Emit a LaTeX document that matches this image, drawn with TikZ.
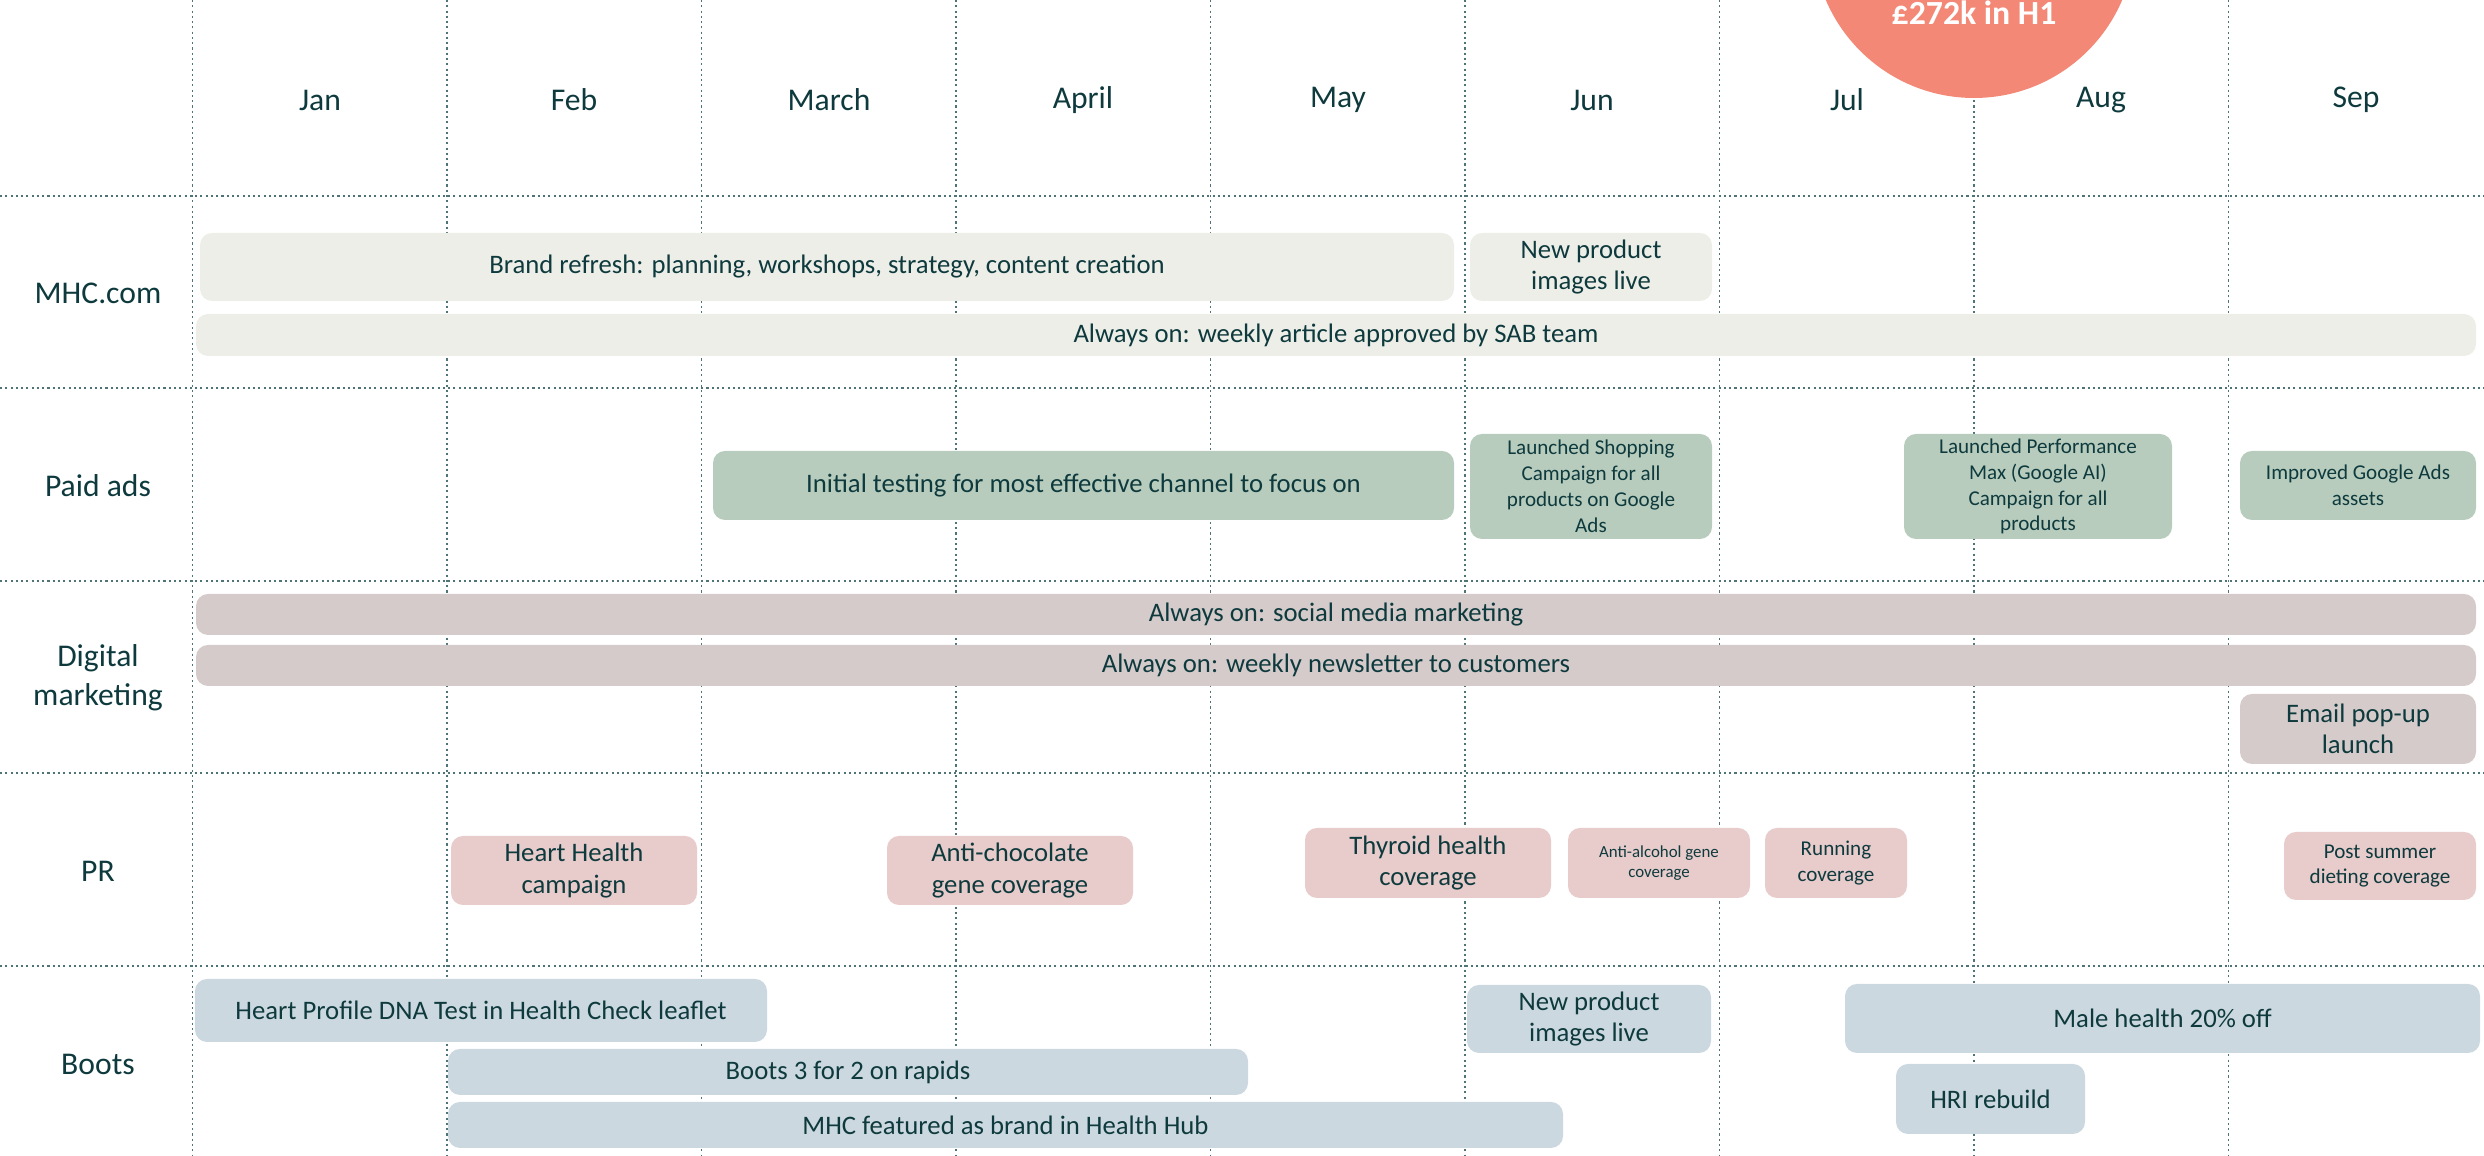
\documentclass[tikz,border=0pt]{standalone}
\usepackage{fontspec}
\setmainfont{Carlito}
\usepackage{xcolor}
\usetikzlibrary{positioning}

\definecolor{inkteal}{HTML}{0E3A3D}
\definecolor{gridteal}{HTML}{4F7478}
\definecolor{mhcfill}{HTML}{EDEEE8}
\definecolor{adsfill}{HTML}{B7CCBD}
\definecolor{digfill}{HTML}{D5CBCB}
\definecolor{prfill}{HTML}{E8CBCB}
\definecolor{bootsfill}{HTML}{CBD8E0}
\definecolor{salmon}{HTML}{F48876}

\tikzset{
  gridline/.style={gridteal, line width=0.45pt, dash pattern=on 0.6pt off 0.9pt},
  month/.style={text=inkteal, font=\fontsize{9}{11}\selectfont},
  rowlabel/.style={text=inkteal, align=center, font=\fontsize{9}{11}\selectfont},
  bar/.style={rectangle, rounded corners=0.12cm, inner sep=0pt, text=inkteal,
    align=center, font=\fontsize{7.6}{9}\selectfont},
  smalltext/.style={font=\fontsize{6}{7.35}\selectfont},
  tinytext/.style={font=\fontsize{4.8}{5.9}\selectfont},
  mhcbar/.style={bar, fill=mhcfill},
  adsbar/.style={bar, fill=adsfill},
  digbar/.style={bar, fill=digfill},
  prbar/.style={bar, fill=prfill},
  bootsbar/.style={bar, fill=bootsfill},
}

\begin{document}
\begin{tikzpicture}
    \useasboundingbox (0, 0) rectangle (24.84, -11.56);

    % grid
    \draw[gridline] (0, -1.96) -- (24.84, -1.96);
    \draw[gridline] (0, -3.88) -- (24.84, -3.88);
    \draw[gridline] (0, -5.81) -- (24.84, -5.81);
    \draw[gridline] (0, -7.73) -- (24.84, -7.73);
    \draw[gridline] (0, -9.66) -- (24.84, -9.66);
    \draw[gridline] (1.925, 0) -- (1.925, -11.56);
    \draw[gridline] (4.47, 0) -- (4.47, -11.56);
    \draw[gridline] (7.015, 0) -- (7.015, -11.56);
    \draw[gridline] (9.56, 0) -- (9.56, -11.56);
    \draw[gridline] (12.105, 0) -- (12.105, -11.56);
    \draw[gridline] (14.65, 0) -- (14.65, -11.56);
    \draw[gridline] (17.195, 0) -- (17.195, -11.56);
    \draw[gridline] (19.74, 0) -- (19.74, -11.56);
    \draw[gridline] (22.285, 0) -- (22.285, -11.56);

    % revenue bubble
    \node[circle, fill=salmon, minimum size=3.22cm, inner sep=0pt] (revenue) at (19.74, 0.63) {};
    \node[text=white, font=\fontsize{9.6}{11}\selectfont\bfseries] (revtext) at (19.74, -0.13) {£272k in H1};

    % months
    \node[month] (jan) at (3.20, -1.00) {Jan};
    \node[month] (feb) at (5.74, -1.00) {Feb};
    \node[month] (mar) at (8.29, -1.00) {March};
    \node[month] (apr) at (10.83, -1.00) {April};
    \node[month] (may) at (13.38, -1.00) {May};
    \node[month] (jun) at (15.92, -1.00) {Jun};
    \node[month] (jul) at (18.47, -1.00) {Jul};
    \node[month] (aug) at (21.01, -1.00) {Aug};
    \node[month] (sep) at (23.56, -1.00) {Sep};

    % rows
    \node[rowlabel] (mhc) at (0.98, -2.93) {MHC.com};
    \node[rowlabel] (ads) at (0.98, -4.86) {Paid ads};
    \node[rowlabel] (dig) at (0.98, -6.78) {Digital\\marketing};
    \node[rowlabel] (pr) at (0.98, -8.71) {PR};
    \node[rowlabel] (boots) at (0.98, -10.64) {Boots};

    % MHC.com
    \node[mhcbar, minimum width=12.54cm, minimum height=0.68cm] (brand) at (8.27, -2.67) {Brand refresh: planning, workshops, strategy, content creation};
    \node[mhcbar, minimum width=2.42cm, minimum height=0.68cm] (newimg) at (15.91, -2.67) {New product\\images live};
    \node[mhcbar, minimum width=22.80cm, minimum height=0.42cm] (article) at (13.36, -3.35) {Always on: weekly article approved by SAB team};

    % Paid ads
    \node[adsbar, minimum width=7.41cm, minimum height=0.69cm] (testing) at (10.835, -4.855) {Initial testing for most effective channel to focus on};
    \node[adsbar, smalltext, minimum width=2.42cm, minimum height=1.05cm] (shopping) at (15.91, -4.865) {Launched Shopping\\Campaign for all\\products on Google\\Ads};
    \node[adsbar, smalltext, minimum width=2.68cm, minimum height=1.05cm] (pmax) at (20.38, -4.865) {Launched Performance\\Max (Google AI)\\Campaign for all\\products};
    \node[adsbar, smalltext, minimum width=2.36cm, minimum height=0.69cm] (assets) at (23.58, -4.855) {Improved Google Ads\\assets};

    % Digital marketing
    \node[digbar, minimum width=22.80cm, minimum height=0.41cm] (social) at (13.36, -6.145) {Always on: social media marketing};
    \node[digbar, minimum width=22.80cm, minimum height=0.41cm] (newsletter) at (13.36, -6.655) {Always on: weekly newsletter to customers};
    \node[digbar, minimum width=2.36cm, minimum height=0.70cm] (popup) at (23.58, -7.29) {Email pop-up\\launch};

    % PR
    \node[prbar, minimum width=2.46cm, minimum height=0.69cm] (heart) at (5.74, -8.705) {Heart Health\\campaign};
    \node[prbar, minimum width=2.46cm, minimum height=0.69cm] (choc) at (10.10, -8.705) {Anti-chocolate\\gene coverage};
    \node[prbar, minimum width=2.46cm, minimum height=0.70cm] (thyroid) at (14.28, -8.63) {Thyroid health\\coverage};
    \node[prbar, tinytext, minimum width=1.82cm, minimum height=0.70cm] (alcohol) at (16.59, -8.63) {Anti-alcohol gene\\coverage};
    \node[prbar, smalltext, minimum width=1.42cm, minimum height=0.70cm] (running) at (18.36, -8.63) {Running\\coverage};
    \node[prbar, smalltext, minimum width=1.92cm, minimum height=0.68cm] (dieting) at (23.80, -8.66) {Post summer\\dieting coverage};

    % Boots
    \node[bootsbar, minimum width=5.72cm, minimum height=0.63cm] (leaflet) at (4.81, -10.105) {Heart Profile DNA Test in Health Check leaflet};
    \node[bootsbar, minimum width=2.44cm, minimum height=0.68cm] (bootsimg) at (15.89, -10.19) {New product\\images live};
    \node[bootsbar, minimum width=6.35cm, minimum height=0.69cm] (male) at (21.625, -10.185) {Male health 20\% off};
    \node[bootsbar, minimum width=8.00cm, minimum height=0.46cm] (rapids) at (8.48, -10.72) {Boots 3 for 2 on rapids};
    \node[bootsbar, minimum width=1.89cm, minimum height=0.70cm] (hri) at (19.905, -10.99) {HRI rebuild};
    \node[bootsbar, minimum width=11.15cm, minimum height=0.46cm] (hub) at (10.055, -11.25) {MHC featured as brand in Health Hub};
\end{tikzpicture}
\end{document}
